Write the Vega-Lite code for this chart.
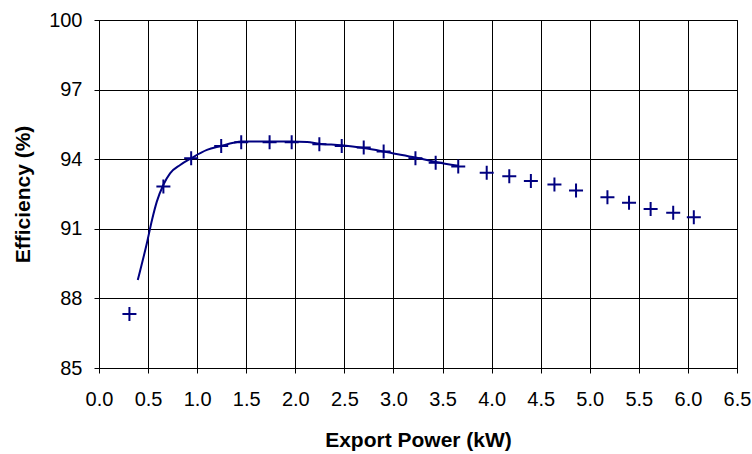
{
  "$schema": "https://vega.github.io/schema/vega-lite/v6.json",
  "width": 638,
  "height": 348,
  "autosize": {"type": "none"},
  "padding": {"left": 99, "top": 20, "right": 15, "bottom": 86},
  "background": "white",
  "config": {
    "view": {"stroke": "black", "strokeWidth": 1},
    "font": "Liberation Sans",
    "axis": {
      "labelFont": "Liberation Sans",
      "titleFont": "Liberation Sans",
      "labelColor": "black",
      "titleColor": "black",
      "domainColor": "black",
      "tickColor": "black",
      "gridColor": "black",
      "gridOpacity": 1,
      "gridWidth": 1,
      "domainWidth": 1,
      "tickWidth": 1,
      "tickSize": 5
    }
  },
  "datasets": {
    "pts": [
      {"power": 0.31, "eff": 87.33},
      {"power": 0.656, "eff": 92.82},
      {"power": 0.939, "eff": 94.04},
      {"power": 1.245, "eff": 94.57},
      {"power": 1.449, "eff": 94.73},
      {"power": 1.738, "eff": 94.73},
      {"power": 1.963, "eff": 94.73},
      {"power": 2.245, "eff": 94.64},
      {"power": 2.473, "eff": 94.57},
      {"power": 2.697, "eff": 94.5},
      {"power": 2.9, "eff": 94.33},
      {"power": 3.224, "eff": 94.04},
      {"power": 3.43, "eff": 93.85},
      {"power": 3.66, "eff": 93.69},
      {"power": 3.95, "eff": 93.42},
      {"power": 4.18, "eff": 93.26},
      {"power": 4.4, "eff": 93.06},
      {"power": 4.64, "eff": 92.91},
      {"power": 4.86, "eff": 92.65},
      {"power": 5.18, "eff": 92.36},
      {"power": 5.4, "eff": 92.12},
      {"power": 5.62, "eff": 91.85},
      {"power": 5.85, "eff": 91.69},
      {"power": 6.06, "eff": 91.5}
    ],
    "curve": [
      {"power": 0.395, "eff": 88.79},
      {"power": 0.487, "eff": 90.37},
      {"power": 0.54, "eff": 91.38},
      {"power": 0.589, "eff": 92.17},
      {"power": 0.656, "eff": 92.9},
      {"power": 0.724, "eff": 93.39},
      {"power": 0.827, "eff": 93.75},
      {"power": 0.939, "eff": 94.04},
      {"power": 1.1, "eff": 94.4},
      {"power": 1.245, "eff": 94.57},
      {"power": 1.37, "eff": 94.71},
      {"power": 1.449, "eff": 94.76},
      {"power": 1.738, "eff": 94.76},
      {"power": 1.963, "eff": 94.76},
      {"power": 2.12, "eff": 94.74},
      {"power": 2.245, "eff": 94.67},
      {"power": 2.473, "eff": 94.6},
      {"power": 2.697, "eff": 94.48},
      {"power": 2.9, "eff": 94.33},
      {"power": 3.0, "eff": 94.25},
      {"power": 3.224, "eff": 94.07},
      {"power": 3.43, "eff": 93.88},
      {"power": 3.66, "eff": 93.72}
    ]
  },
  "encoding": {
    "x": {
      "field": "power",
      "type": "quantitative",
      "scale": {"domain": [0, 6.5], "nice": false, "zero": false},
      "axis": {
        "title": "Export Power (kW)",
        "values": [0, 0.5, 1, 1.5, 2, 2.5, 3, 3.5, 4, 4.5, 5, 5.5, 6, 6.5],
        "format": ".1f",
        "labelFontSize": 20,
        "labelPadding": 16,
        "titleFontSize": 21,
        "titleFontWeight": "bold",
        "titlePadding": 20,
        "grid": true,
        "labelFlush": false
      }
    },
    "y": {
      "field": "eff",
      "type": "quantitative",
      "scale": {"domain": [85, 100], "nice": false, "zero": false},
      "axis": {
        "title": "Efficiency (%)",
        "values": [85, 88, 91, 94, 97, 100],
        "labelFontSize": 20,
        "labelPadding": 12,
        "titleFontSize": 21,
        "titleFontWeight": "bold",
        "titlePadding": 15,
        "grid": true,
        "labelFlush": false
      }
    }
  },
  "layer": [
    {
      "data": {"name": "curve"},
      "mark": {"type": "line", "color": "#000080", "strokeWidth": 2, "interpolate": "monotone"}
    },
    {
      "data": {"name": "pts"},
      "mark": {"type": "point", "shape": "M-1,0H1M0,-1V1", "filled": false, "stroke": "#000080", "strokeWidth": 2, "size": 196, "opacity": 1}
    }
  ]
}
